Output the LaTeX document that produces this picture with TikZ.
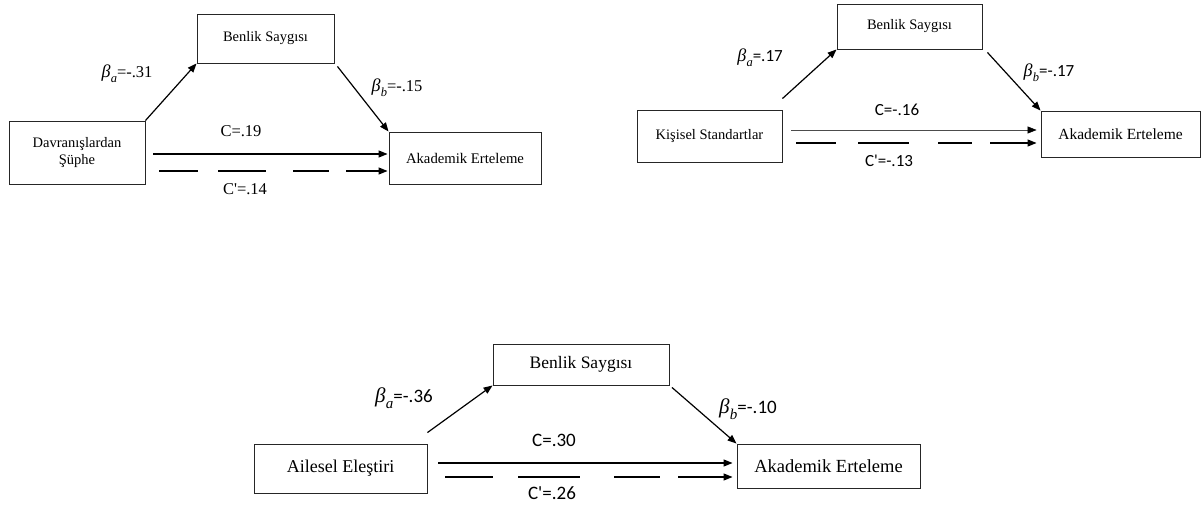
\documentclass[tikz,border=0pt]{standalone}
\usepackage{fontspec}
\setmainfont{Liberation Serif}
\newfontfamily\labfont{Carlito}
\newfontfamily\betfont{Liberation Serif}
\newcommand\betsub[3]{{\betfont\itshape\fontsize{#2}{#2}\selectfont β\kern0.3pt}\raisebox{-0.3em}{\betfont\itshape\fontsize{#3}{#3}\selectfont #1}}
\usetikzlibrary{arrows.meta,calc}
\tikzset{
  box/.style={draw=black!85, line width=0.9pt, rectangle, inner sep=0pt, align=center},
  arr/.style={line width=1.2pt, -{Triangle[length=9pt,width=7pt]}},
  thinarr/.style={line width=0.6pt, draw=black!70, -{Triangle[length=9pt,width=7pt,color=black]}},
  labser/.style={inner sep=0pt, font=\fontsize{16.5}{18}\selectfont},
  lab/.style={inner sep=0pt, font=\labfont\fontsize{17}{19}\selectfont},
  labbig/.style={inner sep=0pt, font=\labfont\fontsize{19}{21}\selectfont},
  dashA/.style={dash pattern=on 39pt off 20pt on 48pt off 27pt on 36pt off 17pt on 200pt},
  dashB/.style={dash pattern=on 40pt off 22pt on 51pt off 29pt on 34pt off 18pt on 200pt},
  dashC/.style={dash pattern=on 48pt off 25pt on 62pt off 34pt on 46pt off 18pt on 200pt},
}
\begin{document}
\begin{tikzpicture}[x=1pt,y=-1pt]
\useasboundingbox (0,0) rectangle (1203,506);
\fill[white] (0,0) rectangle (1203,506);
% ---------- Diagram 1 ----------
\node[box, minimum width=136pt, minimum height=63pt, font=\fontsize{14.5}{17}\selectfont] (D1) at (77,152.5) {Davranışlardan\\Şüphe};
\node[box, minimum width=137pt, minimum height=49pt, font=\fontsize{14.5}{17}\selectfont] (B1) at (265.5,38.5) {Benlik Saygısı};
\node[box, minimum width=152pt, minimum height=52pt, font=\fontsize{14.7}{17}\selectfont] (A1) at (465,158) {Akademik Erteleme};
\draw[arr] (D1.north east) -- (B1.south west);
\draw[arr] ([xshift=3pt,yshift=-3pt]B1.south east) -- (A1.north west);
\coordinate (y1s) at (0,154);
\coordinate (y1d) at (0,171);
\draw[arr] ([xshift=8pt]D1.east |- y1s) -- ([xshift=-1pt]A1.west |- y1s);
\draw[arr, dashA] ([xshift=14pt]D1.east |- y1d) -- ([xshift=-1pt]A1.west |- y1d);
\node[labser] (la1) at (127,74) {\betsub{a}{18}{12.5}=-.31};
\node[labser] (lb1) at (397,88) {\betsub{b}{18}{12.5}=-.15};
\node[labser] (lc1) at (241,131) {C=.19};
\node[labser] (ld1) at (245,189) {C\textquotesingle=.14};
% ---------- Diagram 2 ----------
\node[box, minimum width=145pt, minimum height=52pt, font=\fontsize{14.5}{17}\selectfont] (K2) at (709.5,136) {Kişisel Standartlar};
\node[box, minimum width=145pt, minimum height=45pt, font=\fontsize{14.5}{17}\selectfont] (B2) at (909.5,26.5) {Benlik Saygısı};
\node[box, minimum width=159pt, minimum height=46pt, font=\fontsize{15.5}{17}\selectfont] (A2) at (1120.5,134) {Akademik Erteleme};
\draw[arr] ([yshift=11pt]K2.north east) -- (B2.south west);
\draw[arr] ([xshift=5pt,yshift=-3pt]B2.south east) -- (A2.north west);
\coordinate (y2s) at (0,130);
\coordinate (y2d) at (0,143);
\draw[thinarr] ([xshift=9pt]K2.east |- y2s) -- ([xshift=-4pt]A2.west |- y2s);
\draw[arr, dashB] ([xshift=14pt]K2.east |- y2d) -- ([xshift=-4pt]A2.west |- y2d);
\node[lab] (la2) at (760,58) {\betsub{a}{18}{12.5}=.17};
\node[lab] (lb2) at (1049,73) {\betsub{b}{18}{12.5}=-.17};
\node[lab] (lc2) at (897,110) {C=-.16};
\node[lab] (ld2) at (889,161) {C'=-.13};
% ---------- Diagram 3 ----------
\node[box, minimum width=173pt, minimum height=49pt, font=\fontsize{18}{20}\selectfont] (E3) at (340.5,468.5) {Ailesel Eleştiri};
\node[box, minimum width=176pt, minimum height=41pt, font=\fontsize{17.5}{20}\selectfont] (B3) at (581,364.5) {Benlik Saygısı};
\node[box, minimum width=183pt, minimum height=44pt, font=\fontsize{18.5}{20}\selectfont] (A3) at (828.5,466) {Akademik Erteleme};
\draw[arr] ([yshift=11pt]E3.north east) -- (B3.south west);
\draw[arr] ([xshift=2.5pt,yshift=-2pt]B3.south east) -- (A3.north west);
\coordinate (y3s) at (0,463);
\coordinate (y3d) at (0,477);
\draw[arr] ([xshift=11pt]E3.east |- y3s) -- ([xshift=-4pt]A3.west |- y3s);
\draw[arr, dashC] ([xshift=18pt]E3.east |- y3d) -- ([xshift=-4pt]A3.west |- y3d);
\node[labbig] (la3) at (404,398) {\betsub{a}{21}{15}=-.36};
\node[labbig] (lb3) at (748,409) {\betsub{b}{21}{15}=-.10};
\node[labbig] (lc3) at (554,440) {C=.30};
\node[labbig] (ld3) at (552,493) {C'=.26};
\end{tikzpicture}
\end{document}
